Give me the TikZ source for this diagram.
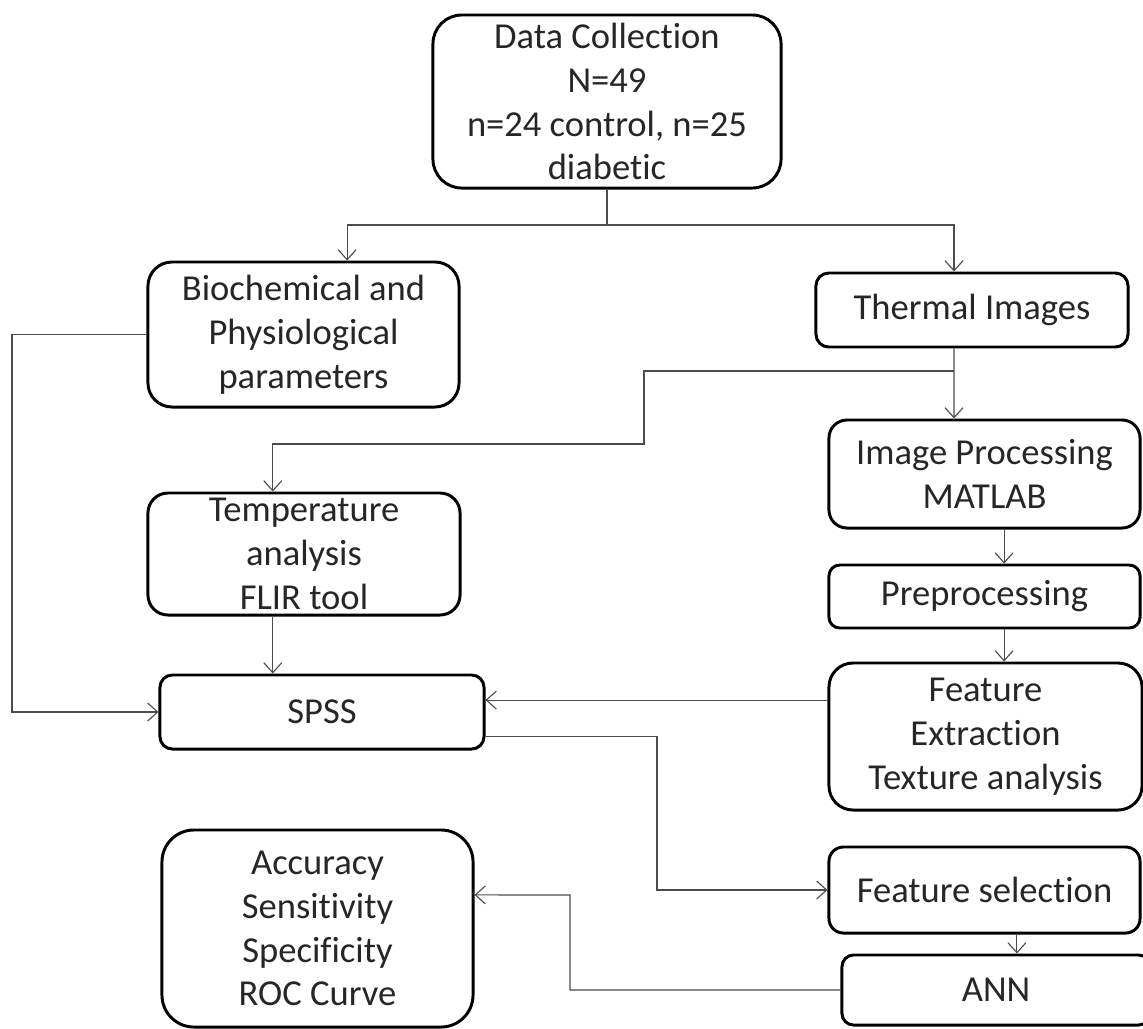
\documentclass[tikz,border=0pt]{standalone}
\usepackage{fontspec}
\setmainfont[Ligatures=NoCommon]{Carlito}
\usetikzlibrary{arrows.meta}

\begin{document}
\begin{tikzpicture}[x=0.025cm, y=-0.025cm,
    box/.style={draw, line width=2.1pt, align=center, inner sep=0pt, text=black!85, font=\fontsize{26}{31.2}\selectfont},
    link/.style={draw=black!70, line width=0.8pt},
    >={Straight Barb[length=0.25cm, width=0.45cm]}]
                    \useasboundingbox (0,0) rectangle (1143,1028);
                    \node[box, rounded corners=0.72cm, minimum width=8.7cm, minimum height=4.325cm] (Data) at (607,101.5) {Data Collection\\N=49\\n=24 control, n=25\\diabetic};
                    \node[box, rounded corners=0.6cm, minimum width=7.775cm, minimum height=3.625cm] (Bio) at (303.5,334.5) {Biochemical and\\Physiological\\parameters};
                    \node[box, rounded corners=0.32cm, minimum width=7.8cm, minimum height=1.85cm] (Thermal) at (972,310) {Thermal Images};
                    \node[box, rounded corners=0.45cm, minimum width=7.775cm, minimum height=2.7cm] (ImgProc) at (984.5,474) {Image Processing\\MATLAB};
                    \node[box, rounded corners=0.5cm, minimum width=7.8cm, minimum height=3.05cm] (Temp) at (304,554) {Temperature\\analysis\\FLIR tool};
                    \node[box, rounded corners=0.27cm, minimum width=7.775cm, minimum height=1.575cm] (PreProc) at (984.5,596.5) {Preprocessing};
                    \node[box, rounded corners=0.31cm, minimum width=8.1cm, minimum height=1.85cm] (SPSS) at (322,712) {SPSS};
                    \node[box, rounded corners=0.6cm, minimum width=7.825cm, minimum height=3.675cm] (FeatExt) at (985.5,736.5) {Feature\\Extraction\\Texture analysis};
                    \node[box, rounded corners=0.36cm, minimum width=7.775cm, minimum height=2.15cm] (FeatSel) at (984.5,890) {Feature selection};
                    \node[box, rounded corners=0.29cm, minimum width=7.7cm, minimum height=1.75cm] (ANN) at (996,990) {ANN};
                    \node[box, rounded corners=0.8cm, minimum width=7.775cm, minimum height=4.925cm] (Acc) at (317.5,928.5) {Accuracy\\Sensitivity\\Specificity\\ROC Curve};
                    \coordinate (Split) at (607,225);
                    \coordinate (TSplit) at (954,371);
                    \coordinate (TBend) at (644,444);
                    \coordinate (LBend) at (12,334.5);
                    \coordinate (SBend) at (657,890);
                    \coordinate (ABend) at (570,895);
                    \draw[link] (Data.south) -- (Split);
                    \draw[link, ->] (Split) -| ([xshift=1.09cm]Bio.north);
                    \draw[link, ->] (Split) -| ([xshift=-0.45cm]Thermal.north);
                    \draw[link, ->] ([xshift=-0.45cm]Thermal.south) -- (TSplit) -- (TSplit |- ImgProc.north);
                    \draw[link, ->] (TSplit) -| (TBend) -| ([xshift=-0.78cm]Temp.north);
                    \draw[link, ->] ([xshift=0.49cm]ImgProc.south) -- ([xshift=0.49cm]ImgProc.south |- PreProc.north);
                    \draw[link, ->] ([xshift=0.49cm]PreProc.south) -- ([xshift=0.49cm]PreProc.south |- FeatExt.north);
                    \draw[link, ->] ([xshift=-0.78cm]Temp.south) -- ([xshift=-0.78cm]Temp.south |- SPSS.north);
                    \draw[link, ->] (Bio.west) -- (LBend) |- (SPSS.west);
                    \draw[link, ->] ([yshift=0.91cm]FeatExt.west) -- ([yshift=0.91cm]FeatExt.west -| SPSS.east);
                    \draw[link, ->] ([yshift=-0.62cm]SPSS.east) -| (SBend) -- (FeatSel.west);
                    \draw[link, ->] ([xshift=0.81cm]FeatSel.south) -- ([xshift=0.81cm]FeatSel.south |- ANN.north);
                    \draw[link, ->] (ANN.west) -| (ABend) -- ([yshift=0.84cm]Acc.east);
                \end{tikzpicture}
\end{document}
